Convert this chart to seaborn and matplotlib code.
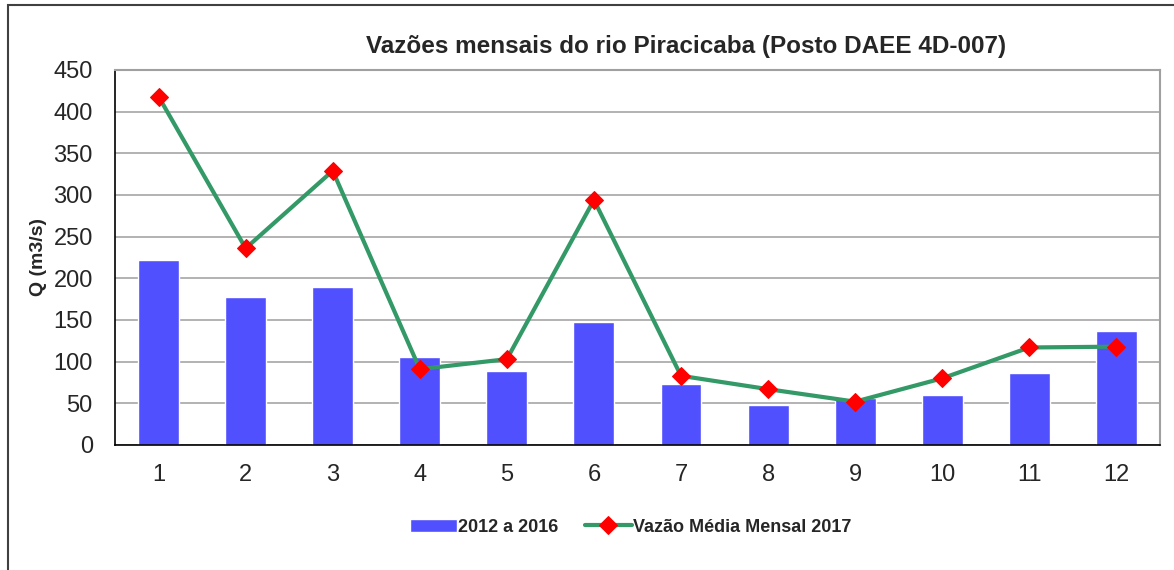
import numpy as np
import pandas as pd
import matplotlib
matplotlib.use("Agg")
import matplotlib.pyplot as plt
import seaborn as sns
from matplotlib.patches import Rectangle

months = ["1", "2", "3", "4", "5", "6", "7", "8", "9", "10", "11", "12"]
media_2012_2016 = [222, 177, 189, 105, 89, 148, 73, 48, 56, 60, 86, 137]
vazao_2017 = [418, 236, 329, 91, 103, 294, 83, 67, 52, 80, 117, 118]
yticks = [0, 50, 100, 150, 200, 250, 300, 350, 400, 450]

sns.set_style("white")
plt.rcParams["font.family"] = ["Liberation Sans", "DejaVu Sans"]

df = pd.DataFrame({"mes": months, "hist": media_2012_2016, "v2017": vazao_2017})
df["pos"] = np.arange(len(months))

fig = plt.figure(figsize=(11.74, 5.70), dpi=100)
ax = fig.add_axes([0.098, 0.2193, 0.890, 0.658])

sns.barplot(data=df, x="mes", y="hist", color="#5050FF", saturation=1,
            width=0.47, ax=ax, label="2012 a 2016", zorder=2)
sns.lineplot(data=df, x="pos", y="v2017", color="#339966", linewidth=3,
             marker="D", markersize=9, markerfacecolor="red",
             markeredgecolor="red", ax=ax, label="Vazão Média Mensal 2017",
             zorder=3)

ax.set_ylim(0, 450)
ax.set_xlim(-0.5, 11.5)
ax.set_yticks(yticks)
ax.set_xticks(df["pos"])
ax.set_xticklabels(months)
ax.tick_params(axis="both", labelsize=17, length=0)
ax.tick_params(axis="x", pad=14)
ax.tick_params(axis="y", pad=16)
ax.yaxis.grid(True, color="#A6A6A6", linewidth=1.2, zorder=0)
ax.set_axisbelow(True)
ax.set_xlabel("")
ax.set_ylabel("Q (m3/s)", fontsize=14, fontweight="bold", labelpad=5)

for side in ["left", "bottom"]:
    ax.spines[side].set_color("black")
    ax.spines[side].set_linewidth(1.2)
for side in ["top", "right"]:
    ax.spines[side].set_visible(True)
    ax.spines[side].set_color("#A0A0A0")
    ax.spines[side].set_linewidth(1.5)

fig.text(0.584, 0.919, "Vazões mensais do rio Piracicaba (Posto DAEE 4D-007)",
         ha="center", va="center", fontsize=17.5, fontweight="bold")

handles, labels = ax.get_legend_handles_labels()
ax.get_legend().remove()
order = [labels.index("2012 a 2016"), labels.index("Vazão Média Mensal 2017")]
fig.legend([handles[i] for i in order], [labels[i] for i in order],
           loc="center", bbox_to_anchor=(0.537, 0.075), ncol=2,
           frameon=False, prop={"size": 13, "weight": "bold"},
           handlelength=2.6, handletextpad=0.05, columnspacing=1.5)

# outer chart frame (bottom edge falls outside the picture)
fig.patches.append(Rectangle((8 / 1174, -0.05), 1.2, 1 - 5 / 570 + 0.05,
                             transform=fig.transFigure, fill=False,
                             edgecolor="#404040", linewidth=1.5))

fig.savefig("out.png", dpi=100)
